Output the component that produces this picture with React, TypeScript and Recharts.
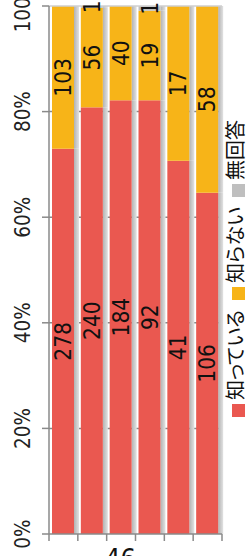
import React from 'react';
import { BarChart, Bar, XAxis, YAxis, CartesianGrid, ReferenceLine, LabelList, Label } from 'recharts';

const categories = ['1', '2', '3', '4', '5', '6'];
const knows = [278, 240, 184, 92, 41, 106];
const unknown = [103, 56, 40, 19, 17, 58];
const noAnswer = [0, 1, 0, 1, 0, 0];
const yTicks = [0, 0.2, 0.4, 0.6, 0.8, 1];

const series = [
  { key: 'knows', name: '知っている', color: '#EA5850' },
  { key: 'unknown', name: '知らない', color: '#F7B418' },
  { key: 'noAnswer', name: '無回答', color: '#BFBFBF' },
];

const data = categories.map((c, i) => ({
  name: c,
  knows: knows[i],
  unknown: unknown[i],
  noAnswer: noAnswer[i],
}));

const NUM_FONT = '"DejaVu Sans Condensed", "DejaVu Sans", sans-serif';
const JP_FONT = '"Noto Sans CJK JP", sans-serif';
const AXIS = '#8a8a8a';

const ShadowBar = (props: any) => {
  const { x, y, width, height, fill } = props;
  if (!height || height <= 0) return null;
  return (
    <g>
      <rect x={x + width} y={y} width={5} height={height} fill="url(#barShadow)" />
      <rect x={x} y={y} width={width} height={height} fill={fill} />
    </g>
  );
};

const SegLabel = (props: any) => {
  const { x, y, width, height, value } = props;
  if (!value) return null;
  const cx = x + width / 2;
  const cy = y + height / 2;
  return (
    <g transform={`translate(${cx},${cy}) rotate(-90)`}>
      <text textAnchor="middle" dy="0.36em" fontSize={22.5} fontFamily={NUM_FONT} fill="#111">
        {value}
      </text>
    </g>
  );
};

const YTick = (props: any) => {
  const { x, y, payload } = props;
  return (
    <g transform={`translate(${x - 10},${y}) rotate(-90)`}>
      <text textAnchor="middle" fontSize={20.5} fontFamily={NUM_FONT} fill="#222">
        {`${Math.round(payload.value * 100)}%`}
      </text>
    </g>
  );
};

const XTick = (props: any) => {
  const { x, y, index, width, visibleTicksCount } = props;
  const band = (width || 173) / (visibleTicksCount || categories.length);
  const top = y - 8;
  const left = x - band / 2;
  return (
    <g>
      <line x1={left} x2={left} y1={top} y2={top + 7} stroke={AXIS} strokeWidth={1.5} />
      {index === categories.length - 1 && (
        <line x1={left + band} x2={left + band} y1={top} y2={top + 7} stroke={AXIS} strokeWidth={1.5} />
      )}
    </g>
  );
};

const legendStarts = [0, 117, 220];

const SideLegend = () => (
  <svg width={247} height={556} style={{ position: 'absolute', left: 0, top: 0, pointerEvents: 'none' }}>
    <g transform="translate(245,417) rotate(-90)">
      {series.map((s, i) => (
        <g key={s.key}>
          <rect x={legendStarts[i]} y={-13} width={13} height={13} fill={s.color} />
          <text
            x={legendStarts[i] + 17}
            y={-2}
            fontSize={20}
            fontFamily={JP_FONT}
            fill="#111"
            style={{ fontFeatureSettings: '"palt"' }}
          >
            {s.name}
          </text>
        </g>
      ))}
    </g>
  </svg>
);

export default function App() {
  return (
    <div style={{ position: 'absolute', left: 0, top: 0, width: 247, height: 556, background: '#fff' }}>
      <BarChart
        width={247}
        height={556}
        data={data}
        stackOffset="expand"
        barSize={22}
        margin={{ top: 6, right: 25, left: 0, bottom: 0 }}
      >
        <defs>
          <linearGradient id="barShadow" x1="0" x2="1" y1="0" y2="0">
            <stop offset="0%" stopColor="#b2b2b2" />
            <stop offset="100%" stopColor="#e2e2e2" />
          </linearGradient>
        </defs>
        <CartesianGrid vertical={false} horizontalValues={[0.2, 0.4, 0.6, 0.8]} stroke={AXIS} strokeWidth={1.5} />
        <ReferenceLine y={1} stroke="#cfcfcf" strokeWidth={1.5} />
        <XAxis
          dataKey="name"
          height={22}
          axisLine={{ stroke: AXIS, strokeWidth: 1.5 }}
          tickLine={false}
          tick={<XTick />}
          interval={0}
        >
          <Label
            content={() => (
              <text x={105} y={568} fontSize={27} fontFamily={NUM_FONT} fill="#111">
                46
              </text>
            )}
          />
        </XAxis>
        <YAxis
          width={49}
          domain={[0, 1]}
          ticks={yTicks}
          interval={0}
          tickSize={7}
          tickLine={{ stroke: AXIS, strokeWidth: 1.5 }}
          axisLine={{ stroke: AXIS, strokeWidth: 1.5 }}
          tick={<YTick />}
        />
        {series.map((s) => (
          <Bar key={s.key} dataKey={s.key} name={s.name} stackId="a" fill={s.color} shape={<ShadowBar />} isAnimationActive={false}>
            <LabelList dataKey={s.key} content={<SegLabel />} />
          </Bar>
        ))}
      </BarChart>
      <SideLegend />
    </div>
  );
}
